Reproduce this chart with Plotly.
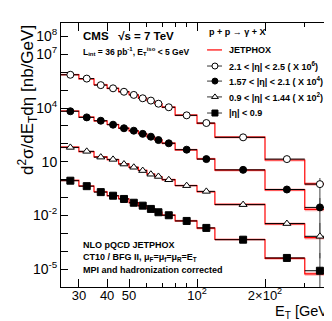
import plotly.graph_objects as go

# bin edges in E_T [GeV]
edges = [25, 30, 35, 40, 45, 50, 55, 60, 65, 70, 80, 100, 120, 200, 300, 400]

# measured cross sections (already scaled as in the legend)
eta_2p1_2p5 = [7.2e5, 4.4e5, 1.9e5, 1.26e5, 8.1e4, 5.4e4, 3.5e4, 2.6e4, 1.74e4, 1.1e4,
               3.9e3, 1.45e3, 230, 14, 0.56]
eta_1p57_2p1 = [6.6e3, 3.0e3, 1.95e3, 1.17e3, 740, 540, 360, 250, 162, 107,
                47, 14, 3.5, 0.28, 0.028]
eta_0p9_1p44 = [63, 38, 18, 13.5, 7.4, 4.9, 3.2, 2.0, 1.5, 0.98,
                0.46, 0.22, 0.040, 3.5e-3, 6.8e-4]
eta_0_0p9 = [0.87, 0.43, 0.20, 0.126, 0.083, 0.051, 0.035, 0.023, 0.015, 0.0102,
             4.9e-3, 2.0e-3, 4.4e-4, 4.2e-5, 8.1e-6]

# vertical errors (up / down), only the last bin is sizeable
err_up_2p1_2p5 = [0] * 14 + [0.67]
err_dn_2p1_2p5 = [0] * 14 + [0.53]
err_up_1p57_2p1 = [0] * 14 + [0.065]
err_dn_1p57_2p1 = [0] * 14 + [0.0273]
err_up_0p9_1p44 = [0] * 14 + [3.1e-3]
err_dn_0p9_1p44 = [0] * 14 + [6.4e-4]
err_up_0_0p9 = [0] * 14 + [7.1e-5]
err_dn_0_0p9 = [0] * 14 + [8.0e-6]

# JETPHOX prediction, same scaling
jp_2p1_2p5 = [7.4e5, 4.3e5, 2.0e5, 1.25e5, 8.2e4, 5.5e4, 3.6e4, 2.55e4, 1.75e4, 1.12e4,
              4.0e3, 1.4e3, 235, 12.5, 0.58]
jp_1p57_2p1 = [6.8e3, 3.1e3, 1.9e3, 1.2e3, 750, 530, 365, 245, 165, 108,
               46, 14.5, 3.4, 0.27, 0.022]
jp_0p9_1p44 = [65, 37, 18.5, 13, 7.6, 4.8, 3.3, 2.05, 1.45, 1.0,
               0.47, 0.21, 0.041, 3.4e-3, 5.8e-4]
jp_0_0p9 = [0.9, 0.44, 0.21, 0.125, 0.085, 0.052, 0.034, 0.0235, 0.0152, 0.0104,
            5.0e-3, 1.95e-3, 4.5e-4, 4.0e-5, 5.4e-6]
jp_rel_unc = [0.12, 0.12, 0.12, 0.12, 0.12, 0.13, 0.13, 0.13, 0.13, 0.14,
              0.14, 0.15, 0.16, 0.18, 0.22]

legend_labels = [
    "2.1 < |η| < 2.5 ( X 10<sup>6</sup>)",
    "1.57 < |η| < 2.1 ( X 10<sup>4</sup>)",
    "0.9 < |η| < 1.44 ( X 10<sup>2</sup>)",
    "|η| < 0.9",
]

FONT = "Liberation Sans, Arial, sans-serif"
RED = "#ff0000"
BAND = "rgba(255,0,0,0.3)"

centers = [(a + b) / 2 for a, b in zip(edges[:-1], edges[1:])]
half_lo = [c - a for c, a in zip(centers, edges[:-1])]
half_hi = [b - c for c, b in zip(centers, edges[1:])]

series = [
    (eta_2p1_2p5, err_up_2p1_2p5, err_dn_2p1_2p5, jp_2p1_2p5, "circle", "white"),
    (eta_1p57_2p1, err_up_1p57_2p1, err_dn_1p57_2p1, jp_1p57_2p1, "circle", "black"),
    (eta_0p9_1p44, err_up_0p9_1p44, err_dn_0p9_1p44, jp_0p9_1p44, "triangle-up", "white"),
    (eta_0_0p9, err_up_0_0p9, err_dn_0_0p9, jp_0_0p9, "square", "black"),
]

fig = go.Figure()


def step_y(vals):
    return list(vals) + [vals[-1]]


# theory bands and lines first
for data, eu, ed, jp, sym, fill in series:
    lo = [v * (1 - u) for v, u in zip(jp, jp_rel_unc)]
    hi = [v * (1 + u) for v, u in zip(jp, jp_rel_unc)]
    fig.add_trace(go.Scatter(x=edges, y=step_y(lo), mode="lines", line=dict(width=0, shape="hv"),
                             showlegend=False, hoverinfo="skip"))
    fig.add_trace(go.Scatter(x=edges, y=step_y(hi), mode="lines", line=dict(width=0, shape="hv"),
                             fill="tonexty", fillcolor=BAND, showlegend=False, hoverinfo="skip"))
    fig.add_trace(go.Scatter(x=edges, y=step_y(jp), mode="lines",
                             line=dict(color=RED, width=1.2, shape="hv"), showlegend=False))

# data points
for data, eu, ed, jp, sym, fill in series:
    fig.add_trace(go.Scatter(
        x=centers, y=data, mode="markers",
        marker=dict(symbol=sym, size=7, color=fill, line=dict(color="black", width=1)),
        error_x=dict(type="data", symmetric=False, array=half_hi, arrayminus=half_lo,
                     color="black", thickness=1, width=0),
        error_y=dict(type="data", symmetric=False, array=eu, arrayminus=ed,
                     color="#444444", thickness=1, width=0),
        showlegend=False,
    ))

# legend samples on an overlay axis (0..1 in plot-area units)
xl0, xl1, xm = 0.537, 0.592, 0.566
legend_y = [0.837, 0.780, 0.720, 0.659]
fig.add_trace(go.Scatter(x=[xl0, xl1], y=[0.898, 0.898], mode="lines", line=dict(color=RED, width=1.2),
                         xaxis="x2", yaxis="y2", showlegend=False))
for (data, eu, ed, jp, sym, fill), ly in zip(series, legend_y):
    fig.add_trace(go.Scatter(x=[xl0, xl1], y=[ly, ly], mode="lines", line=dict(color="#333", width=1),
                             xaxis="x2", yaxis="y2", showlegend=False))
    fig.add_trace(go.Scatter(x=[xm], y=[ly], mode="markers",
                             marker=dict(symbol=sym, size=6, color=fill,
                                         line=dict(color="black", width=1)),
                             xaxis="x2", yaxis="y2", showlegend=False))

ann = []
ann.append(dict(x=0.537, y=0.966, text="<b>p + p → γ + X</b>", font=dict(size=9)))
ann.append(dict(x=0.61, y=0.898, text="<b>JETPHOX</b>", font=dict(size=9)))
for lab, ly in zip(legend_labels, legend_y):
    ann.append(dict(x=0.61, y=ly, text="<b>" + lab + "</b>", font=dict(size=9)))
ann.append(dict(x=0.074, y=0.951, text="<b>CMS   √s = 7 TeV</b>", font=dict(size=11.5)))
ann.append(dict(x=0.074, y=0.893,
                text="<b>L<sub>int</sub> = 36 pb<sup>-1</sup>, E<sub>T</sub><sup>iso</sup> < 5 GeV</b>",
                font=dict(size=8.5)))
ann.append(dict(x=0.074, y=0.159, text="<b>NLO pQCD JETPHOX</b>", font=dict(size=9)))
ann.append(dict(x=0.074, y=0.112,
                text="<b>CT10 / BFG II, μ<sub>F</sub>=μ<sub>f</sub>=μ<sub>R</sub>=E<sub>T</sub></b>",
                font=dict(size=9)))
ann.append(dict(x=0.074, y=0.064, text="<b>MPI and hadronization corrected</b>", font=dict(size=9)))
for a in ann:
    a.update(xref="paper", yref="paper", xanchor="left", yanchor="middle", showarrow=False)
    a["font"]["family"] = FONT
    a["font"]["color"] = "black"

ann.append(dict(x=-0.125, y=1.0, xref="paper", yref="paper", xanchor="center", yanchor="top",
                textangle=-90, showarrow=False,
                text="d<sup>2</sup>σ/dE<sub>T</sub>dη [nb/GeV]",
                font=dict(family=FONT, size=17, color="black")))
ann.append(dict(x=0.893, y=-0.094, xref="paper", yref="paper", xanchor="center", yanchor="middle",
                showarrow=False, text="E<sub>T</sub> [GeV]",
                font=dict(family=FONT, size=14.5, color="black")))

y_ticks = [10.0 ** k for k in range(-6, 9)]
y_text = {8: "10<sup>8</sup>", 7: "10<sup>7</sup>", 4: "10<sup>4</sup>", 1: "10",
          -2: "10<sup>-2</sup>", -5: "10<sup>-5</sup>"}
y_ticktext = [y_text.get(k, "") for k in range(-6, 9)]

fig.update_layout(
    width=332, height=321,
    margin=dict(l=53, r=7, t=15, b=42),
    paper_bgcolor="white", plot_bgcolor="white",
    font=dict(family=FONT, color="black"),
    annotations=ann,
    xaxis=dict(type="log", range=[1.39794, 2.60206], showgrid=False, zeroline=False,
               automargin=False,
               showline=True, linecolor="black", linewidth=1, mirror="ticks",
               ticks="inside", ticklen=8, tickcolor="black",
               tickmode="array", tickvals=[30, 40, 50, 100, 200],
               ticktext=["30", "40", "50", "10<sup>2</sup>", "2×10<sup>2</sup>"],
               tickfont=dict(size=13), ticklabelstandoff=-4,
               minor=dict(tickmode="array", tickvals=[60, 70, 80, 90, 300, 400],
                          ticks="inside", ticklen=4, tickcolor="black")),
    yaxis=dict(type="log", range=[-6.0, 8.75], showgrid=False, zeroline=False,
               automargin=False,
               showline=True, linecolor="black", linewidth=1, mirror="ticks",
               ticks="inside", ticklen=7, tickcolor="black",
               tickmode="array", tickvals=y_ticks, ticktext=y_ticktext,
               tickfont=dict(size=14)),
    xaxis2=dict(overlaying="x", range=[0, 1], visible=False),
    yaxis2=dict(overlaying="y", range=[0, 1], visible=False),
)

fig.write_html("out.html")
